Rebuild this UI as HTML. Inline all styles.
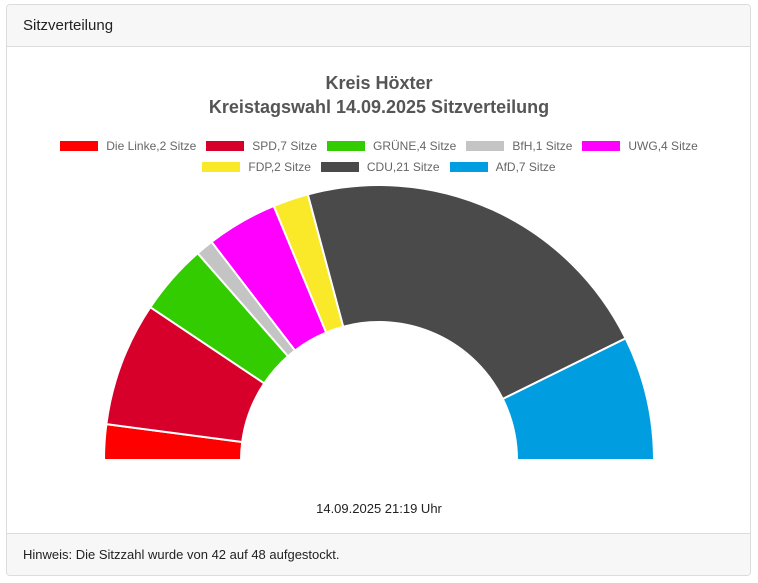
<!DOCTYPE html>
<html><head><meta charset="utf-8"><style>
body{margin:0;width:758px;height:583px;background:#fff;font-family:"Liberation Sans",sans-serif;position:relative;overflow:hidden}
.card{position:absolute;left:6px;top:4px;width:745px;height:572px;border:1px solid #dcdcdc;border-radius:4px;box-sizing:border-box;overflow:hidden}
.hdr{position:absolute;left:0;top:0;right:0;height:41px;background:#f7f7f7;border-bottom:1px solid #dcdcdc;font-size:15px;color:#222;line-height:42px;padding-left:16px}
.ftr{position:absolute;left:0;bottom:0;right:0;height:41px;background:#f7f7f7;border-top:1px solid #dcdcdc;font-size:13px;color:#222;line-height:42px;padding-left:16px}
.legend{position:absolute;left:0;width:758px;display:flex;justify-content:center;font-size:12px;color:#666}
.li{display:flex;align-items:center;margin:0 5px}
.sw{width:38px;height:10px;margin-right:8px}
</style></head><body>
<div class="card">
<div class="hdr">Sitzverteilung</div>
<div class="ftr">Hinweis: Die Sitzzahl wurde von 42 auf 48 aufgestockt.</div>
</div>
<svg width="758" height="583" style="position:absolute;left:0;top:0" id="chart">
<text x="379" y="89" text-anchor="middle" font-size="18" font-weight="bold" fill="#555">Kreis Höxter</text>
<text x="379" y="113" text-anchor="middle" font-size="18" font-weight="bold" fill="#555">Kreistagswahl 14.09.2025 Sitzverteilung</text>
<text x="379" y="513" text-anchor="middle" font-size="13" fill="#222">14.09.2025 21:19 Uhr</text>
<g id="arcs"></g>
</svg>
<div class="legend" id="leg1" style="top:139px"></div>
<div class="legend" id="leg2" style="top:160px"></div>
<script>
const parties=["Die Linke","SPD","GRÜNE","BfH","UWG","FDP","CDU","AfD"];
const seats=[2,7,4,1,4,2,21,7];
const colors=["#ff0000","#d7002a","#33cc00","#c4c4c4","#ff00ff","#f9e929","#4a4a4a","#009ee0"];
const cx=379,cy=460,R=275,r=138;
const total=seats.reduce((a,b)=>a+b,0);
const g=document.getElementById('arcs');
let acc=0;
function pt(rad,a){return [cx-rad*Math.cos(a),cy-rad*Math.sin(a)];}
seats.forEach((s,i)=>{
 const a0=Math.PI*acc/total,a1=Math.PI*(acc+s)/total;acc+=s;
 const p1=pt(R,a0),p2=pt(R,a1),p3=pt(r,a1),p4=pt(r,a0);
 const p=document.createElementNS('http://www.w3.org/2000/svg','path');
 p.setAttribute('d',`M${p1}A${R},${R} 0 0 1 ${p2}L${p3}A${r},${r} 0 0 0 ${p4}Z`);
 p.setAttribute('fill',colors[i]);p.setAttribute('stroke','#fff');p.setAttribute('stroke-width','2');
 
 
 g.appendChild(p);
});
parties.forEach((n,i)=>{
 const d=document.createElement('div');d.className='li';
 
 
 d.innerHTML=`<span class="sw" style="background:${colors[i]}"></span><span>${n},${seats[i]} Sitze</span>`;
 document.getElementById(i<5?'leg1':'leg2').appendChild(d);
});
</script>
</body></html>
